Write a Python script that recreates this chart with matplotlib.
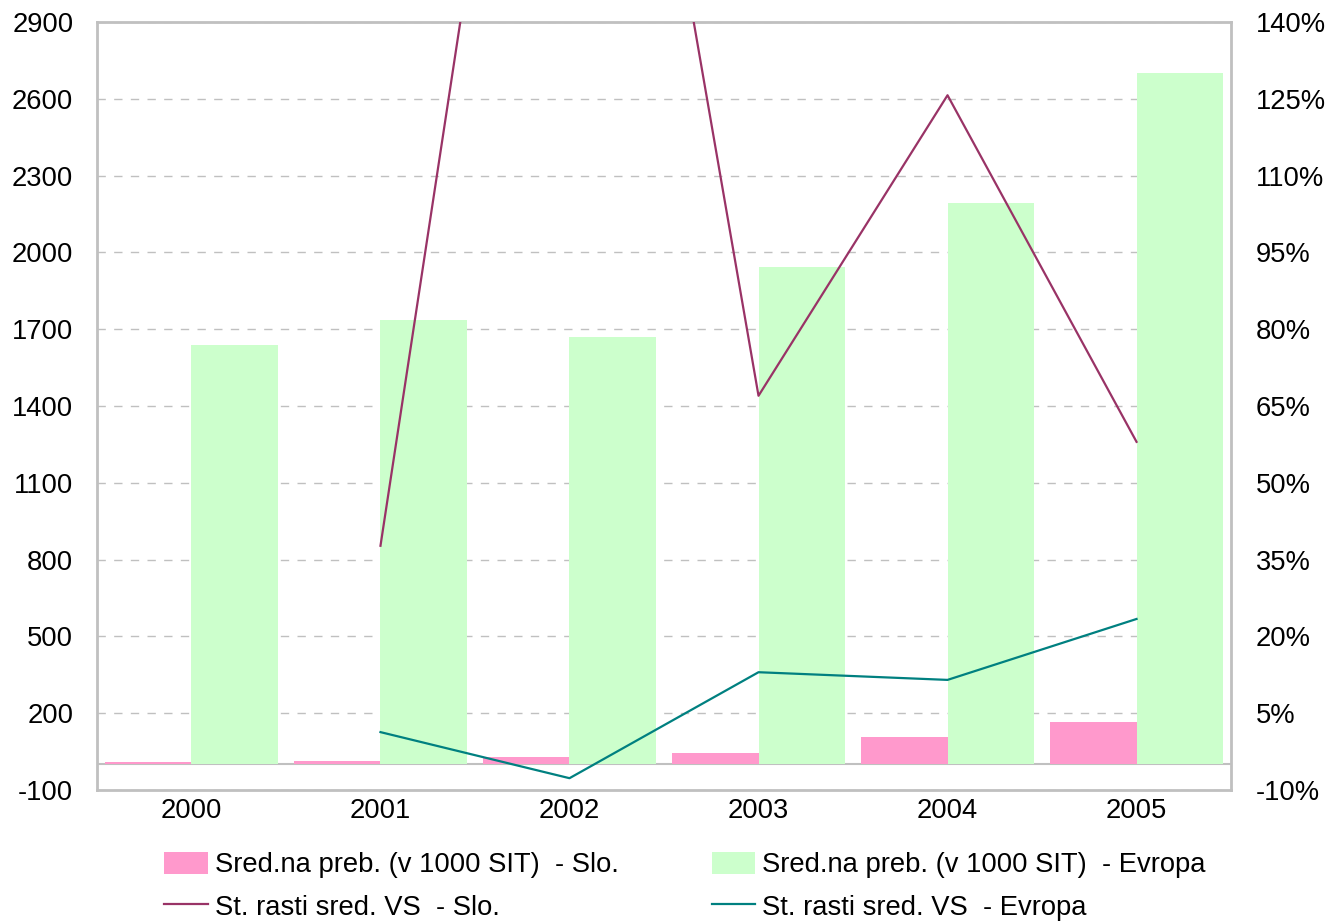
import numpy as np
import matplotlib
matplotlib.use('Agg')
from matplotlib import pyplot as plt

plt.rcParams['font.family'] = ['Liberation Sans', 'DejaVu Sans']
plt.rcParams['axes.unicode_minus'] = False

# data
years = ['2000', '2001', '2002', '2003', '2004', '2005']
avg_slo = [9, 12, 30, 46, 107, 165]          # Sred.na preb. (v 1000 SIT) - Slo.
avg_evr = [1638, 1736, 1670, 1943, 2193, 2701]  # Sred.na preb. (v 1000 SIT) - Evropa
growth_slo = [np.nan, 37.7, 280, 67, 125.7, 58]  # St. rasti sred. VS - Slo. (%)
growth_evr = [np.nan, 1.3, -7.7, 13, 11.5, 23.4]  # St. rasti sred. VS - Evropa (%)

pink = '#FF99CC'
green = '#CCFFCC'
maroon = '#993366'
teal = '#008080'
frame = '#c0c0c0'
fs = 19.7

fig = plt.figure(figsize=(13.3, 9.22), dpi=100)
ax = fig.add_axes([0.0729, 0.1432, 0.8527, 0.8329])
x = np.arange(len(years))
w = 0.46
ax.axhline(0, color=frame, lw=1.5, zorder=1.5)
b1 = ax.bar(x - w/2, avg_slo, w, color=pink, zorder=2)
b2 = ax.bar(x + w/2, avg_evr, w, color=green, zorder=2)

ax.set_xlim(-0.5, len(years) - 0.5)
ax.set_ylim(-100, 2900)
ax.set_yticks(np.arange(-100, 2901, 300))
ax.set_xticks(x)
ax.set_xticklabels(years)
ax.yaxis.grid(True, ls=(0, (6, 6)), color=frame, lw=1)
ax.set_axisbelow(True)
ax.tick_params(axis='y', length=0, pad=17, labelsize=fs)
ax.tick_params(axis='x', length=0, pad=6, labelsize=fs)
for s in ax.spines.values():
    s.set_color(frame); s.set_linewidth(2)

ax2 = ax.twinx()
l1, = ax2.plot(x, growth_slo, color=maroon, lw=1.6)
l2, = ax2.plot(x, growth_evr, color=teal, lw=1.6)
ax2.set_ylim(-10, 140)
ax2.set_yticks(np.arange(-10, 141, 15))
ax2.set_yticklabels(['%d%%' % v for v in np.arange(-10, 141, 15)])
ax2.tick_params(axis='y', length=0, pad=18, labelsize=fs)
for s in ax2.spines.values():
    s.set_visible(False)

fig.legend([b1, l1, b2, l2],
           ['Sred.na preb. (v 1000 SIT)  - Slo.', 'St. rasti sred. VS  - Slo.',
            'Sred.na preb. (v 1000 SIT)  - Evropa', 'St. rasti sred. VS  - Evropa'],
           ncol=2, loc='upper left', bbox_to_anchor=(0.1233, 0.0759), frameon=False,
           fontsize=fs, handlelength=1.6, handleheight=0.85, handletextpad=0.25,
           columnspacing=3.4, labelspacing=0.58, borderaxespad=0, borderpad=0)

plt.savefig('out.png', dpi=100)
